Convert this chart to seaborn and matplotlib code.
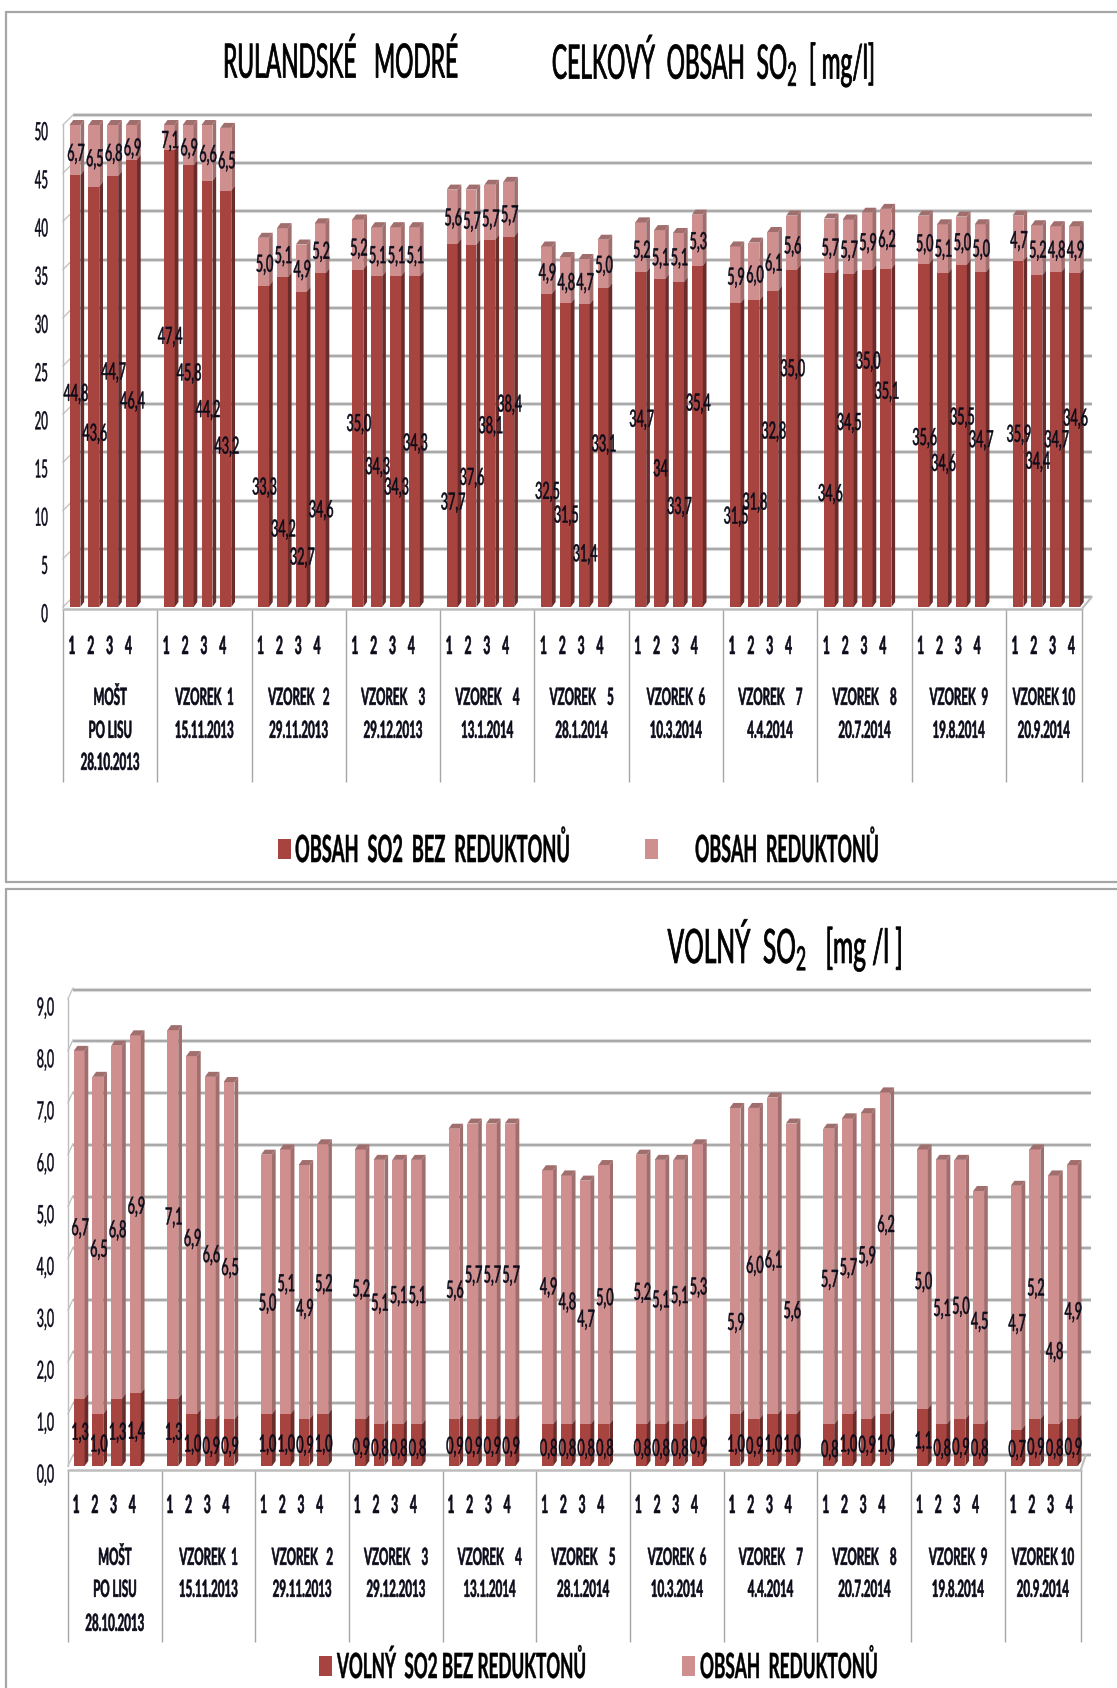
import numpy as np
import pandas as pd
import matplotlib
matplotlib.use("Agg")
import matplotlib.pyplot as plt
import matplotlib.transforms as mtrans
import matplotlib.patheffects as pe
from matplotlib.font_manager import FontProperties
from matplotlib.lines import Line2D
from matplotlib.patches import Patch, Polygon
from matplotlib.textpath import TextPath
import seaborn as sns

sns.set_theme(style="white")
FONT = ["Lato", "DejaVu Sans"]
plt.rcParams["font.family"] = FONT
plt.rcParams["mathtext.fontset"] = "custom"
plt.rcParams["mathtext.rm"] = "Lato"
plt.rcParams["mathtext.default"] = "regular"

# ---- data -----------------------------------------------------------------
GROUP_LINES = [
    ["MOŠT", "PO LISU", "28.10.2013"],
    ["VZOREK  1", "15.11.2013"],
    ["VZOREK   2", "29.11.2013"],
    ["VZOREK    3", "29.12.2013"],
    ["VZOREK    4", "13.1.2014"],
    ["VZOREK    5", "28.1.2014"],
    ["VZOREK  6", "10.3.2014"],
    ["VZOREK    7", "4.4.2014"],
    ["VZOREK    8", "20.7.2014"],
    ["VZOREK  9", "19.8.2014"],
    ["VZOREK 10", "20.9.2014"],
]
SAMPLES = ["1", "2", "3", "4"]

total_base = [44.8, 43.6, 44.7, 46.4, 47.4, 45.8, 44.2, 43.2, 33.3, 34.2, 32.7, 34.6,
              35.0, 34.3, 34.3, 34.3, 37.7, 37.6, 38.1, 38.4, 32.5, 31.5, 31.4, 33.1,
              34.7, 34.0, 33.7, 35.4, 31.5, 31.8, 32.8, 35.0, 34.6, 34.5, 35.0, 35.1,
              35.6, 34.6, 35.5, 34.7, 35.9, 34.4, 34.7, 34.6]
total_red = [6.7, 6.5, 6.8, 6.9, 7.1, 6.9, 6.6, 6.5, 5.0, 5.1, 4.9, 5.2,
             5.2, 5.1, 5.1, 5.1, 5.6, 5.7, 5.7, 5.7, 4.9, 4.8, 4.7, 5.0,
             5.2, 5.1, 5.1, 5.3, 5.9, 6.0, 6.1, 5.6, 5.7, 5.7, 5.9, 6.2,
             5.0, 5.1, 5.0, 5.0, 4.7, 5.2, 4.8, 4.9]
free_base = [1.3, 1.0, 1.3, 1.4, 1.3, 1.0, 0.9, 0.9, 1.0, 1.0, 0.9, 1.0,
             0.9, 0.8, 0.8, 0.8, 0.9, 0.9, 0.9, 0.9, 0.8, 0.8, 0.8, 0.8,
             0.8, 0.8, 0.8, 0.9, 1.0, 0.9, 1.0, 1.0, 0.8, 1.0, 0.9, 1.0,
             1.1, 0.8, 0.9, 0.8, 0.7, 0.9, 0.8, 0.9]
free_red = [6.7, 6.5, 6.8, 6.9, 7.1, 6.9, 6.6, 6.5, 5.0, 5.1, 4.9, 5.2,
            5.2, 5.1, 5.1, 5.1, 5.6, 5.7, 5.7, 5.7, 4.9, 4.8, 4.7, 5.0,
            5.2, 5.1, 5.1, 5.3, 5.9, 6.0, 6.1, 5.6, 5.7, 5.7, 5.9, 6.2,
            5.0, 5.1, 5.0, 4.5, 4.7, 5.2, 4.8, 4.9]

# Hand-dragged label heights, as they sit in the picture (px of a 1568 px tall view)
total_base_label_y = [365, 402, 345, 372, 312, 346, 380, 414, 452, 491, 517, 473,
                      393, 433, 452, 411, 466, 443, 395, 375, 456, 478, 514, 412,
                      389, 435, 470, 374, 479, 466, 400, 342, 458, 392, 335, 363,
                      406, 430, 387, 408, 403, 428, 408, 388]
total_red_label_y = [142, 147, 142, 137, 130, 137, 143, 149, 245, 237, 250, 233,
                     230, 237, 237, 237, 202, 205, 203, 199, 253, 262, 262, 246,
                     232, 239, 239, 224, 257, 255, 244, 228, 230, 232, 225, 222,
                     226, 231, 225, 231, 223, 232, 232, 232]
free_base_label_y = [1330, 1341, 1330, 1329, 1330, 1341, 1343, 1343, 1341, 1341, 1342, 1341,
                     1344, 1345, 1345, 1345, 1343, 1343, 1343, 1343, 1345, 1345, 1345, 1345,
                     1345, 1345, 1345, 1343, 1341, 1343, 1341, 1341, 1346, 1341, 1342, 1341,
                     1338, 1345, 1344, 1345, 1346, 1344, 1345, 1344]
free_red_label_y = [1140, 1160, 1142, 1120, 1130, 1150, 1165, 1177, 1210, 1192, 1215, 1192,
                    1197, 1210, 1203, 1203, 1198, 1184, 1184, 1184, 1195, 1209, 1225, 1205,
                    1200, 1207, 1203, 1195, 1228, 1175, 1170, 1217, 1188, 1177, 1166, 1137,
                    1190, 1215, 1213, 1227, 1229, 1196, 1255, 1218]

Y_TICKS_TOTAL = [0, 5, 10, 15, 20, 25, 30, 35, 40, 45, 50]
Y_TICKS_FREE = [0, 1, 2, 3, 4, 5, 6, 7, 8, 9]
LEGEND_TOTAL = ["OBSAH  SO2  BEZ  REDUKTONŮ", "OBSAH  REDUKTONŮ"]
LEGEND_FREE = ["VOLNÝ  SO2 BEZ REDUKTONŮ", "OBSAH  REDUKTONŮ"]

# ---- style ----------------------------------------------------------------
W, H = 1117, 1688
DPI = 100
DARK, LIGHT = "#A8443F", "#CE8F8E"
DARK_SIDE, LIGHT_SIDE = "#6A2C2A", "#A06E6D"
GRID, GRID_SHADE, SEP = "#A9A9A9", "#DEDEDE", "#A6A6A6"
INK = "#0B0B1A"
CAP = 0.72  # cap height of the font, in em

fig = plt.figure(figsize=(W / DPI, H / DPI), dpi=DPI, facecolor="white")


class Stretch(pe.AbstractPathEffect):
    """Tall, narrow look of the pasted screenshot: stretch glyphs about mid cap height."""

    def __init__(self, sy, bold=0.0):
        super().__init__()
        self.sy = sy
        self.bold = bold

    def draw_path(self, renderer, gc, tpath, affine, rgbFace=None):
        mid = 100 * CAP / 2  # glyph paths use 100 units per em
        aff = mtrans.Affine2D().translate(0, -mid).scale(1, self.sy).translate(0, mid) + affine
        gc0 = renderer.new_gc()
        gc0.copy_properties(gc)
        if self.bold and rgbFace is not None:
            gc0.set_linewidth(self.bold)
            gc0.set_foreground(rgbFace)
        renderer.draw_path(gc0, tpath, aff, rgbFace)
        gc0.restore()


def tall(size_pt, cap_px, bold=0.0):
    return [Stretch(cap_px / (size_pt / 72 * DPI * CAP), bold)]


def size_for(text, width_px, weight="normal"):
    """Font size (pt) at which the text is width_px wide."""
    fp = FontProperties(family="Lato", weight=weight, size=10)
    w = TextPath((0, 0), text, size=10, prop=fp).get_extents().width
    return 10 * (width_px / (DPI / 72)) / w


def px_axes(left, right, y0, y1):
    return fig.add_axes([left / W, 1 - y0 / H, (right - left) / W, (y0 - y1) / H])


def fy(px):
    return 1 - px / H


def comma(v, nd=1):
    return f"{v:.{nd}f}".replace(".", ",")


def legend_entry(color, label, g, square_x, text_w, cap_px, pad_px, square_h=24, square_w=13):
    fs = size_for(label, text_w, "bold")
    em = fs / 72 * DPI
    leg = fig.legend([Patch(fc=color, ec="none")], [label], frameon=False,
                     loc="center left", bbox_to_anchor=(square_x / W, fy(g["leg_y"])),
                     fontsize=fs, handlelength=square_w / em, handleheight=square_h / em,
                     handletextpad=pad_px / em, borderaxespad=0, borderpad=0,
                     labelcolor="black")
    for t in leg.get_texts():
        t.set_fontweight("bold")
        t.set_path_effects(tall(fs, cap_px, 0.3))


def panel(base, red, base_y, red_y, yticks, ymax, g, legend_labels, exceptions):
    n_groups = len(GROUP_LINES)
    slot = g["slot"]
    offs = g["offset"]
    # back wall with its gridlines
    back = px_axes(g["back_l"], g["back_r"], g["back_y0"], g["back_y1"])
    back.set_ylim(0, ymax)
    back.set_xlim(0, 1)
    back.set_yticks([])
    back.set_xticks([])
    back.set_facecolor("none")
    for s in back.spines.values():
        s.set_visible(False)
    back.hlines(yticks, 0, 1, color=GRID_SHADE, lw=3.0, clip_on=False, zorder=1)
    back.hlines(yticks, 0, 1, color=GRID, lw=1.5, clip_on=False, zorder=2)

    # front plane with the bars
    ax = px_axes(g["left"], g["right"], g["y0"], g["y1"])
    ax.set_facecolor("none")
    df = pd.DataFrame({
        "pos": [5 * i + j for i in range(n_groups) for j in range(len(SAMPLES))],
        "base": base,
        "red": red,
    })
    df["total"] = df["base"] + df["red"]
    xmin, xmax = -offs, (g["right"] - g["left"]) / slot - offs
    sns.barplot(data=df, x="pos", y="total", native_scale=True, color=LIGHT, saturation=1,
                width=0.58, ax=ax, zorder=3, linewidth=0)
    n_light = len(ax.patches)
    sns.barplot(data=df, x="pos", y="base", native_scale=True, color=DARK, saturation=1,
                width=0.58, ax=ax, zorder=4, linewidth=0)
    ax.set_xlim(xmin, xmax)
    ax.set_ylim(0, ymax)
    ax.set_xlabel("")
    ax.set_ylabel("")

    # 3-D depth of every bar, derived from the bars themselves
    ppu = (g["y0"] - g["y1"]) / ymax
    dx, dy = 3.7 / slot, 5.0 / ppu
    for k, p in enumerate(list(ax.patches)):
        is_light = k < n_light
        x0 = p.get_x()
        x1 = x0 + p.get_width()
        top = min(p.get_height(), ymax)
        lo = df["base"].iloc[k % len(df)] if is_light else 0
        side = LIGHT_SIDE if is_light else DARK_SIDE
        ax.add_patch(Polygon([(x1, lo), (x1 + dx, lo + dy), (x1 + dx, top + dy), (x1, top)],
                             closed=True, fc=side, ec="none", zorder=3.5 if is_light else 4.5,
                             clip_on=False))
        if is_light:
            ax.add_patch(Polygon([(x0, top), (x0 + dx, top + dy), (x1 + dx, top + dy), (x1, top)],
                                 closed=True, fc=LIGHT_SIDE, ec="none", zorder=3.5, clip_on=False))

    # axes furniture
    for name, s in ax.spines.items():
        s.set_visible(name == "left")
    ax.spines["left"].set_color("#BDBDBD")
    ax.spines["left"].set_linewidth(1.0)
    ax.set_yticks(yticks)
    ax.set_yticklabels([comma(t, g["y_nd"]) for t in yticks], fontsize=g["y_fs"], color=INK)
    ax.tick_params(axis="y", length=0, pad=g["y_pad"], left=False)
    shift = mtrans.ScaledTranslation(0, -g["y_label_drop"] / DPI, fig.dpi_scale_trans)
    for t in ax.get_yticklabels():
        t.set_transform(t.get_transform() + shift)
        t.set_path_effects(tall(g["y_fs"], 18, 0.3))

    pos = df["pos"].to_numpy()
    ax.set_xticks(pos - 0.16)
    ax.set_xticklabels(SAMPLES * n_groups, fontsize=8.7, fontweight="bold", color=INK)
    ax.tick_params(axis="x", length=0, pad=g["x_pad"], bottom=False)
    for t in ax.get_xticklabels():
        t.set_path_effects(tall(8.7, 18, 0.4))

    # walls and floor
    bdx = (g["back_l"] - g["left"]) / slot
    bdy = (g["y0"] - g["back_y0"]) / ppu
    floor = -g["floor_drop"] / ppu
    for t in yticks:
        ax.plot([xmin, xmin + bdx], [t, t + bdy], color="#C4C4C4", lw=1, clip_on=False, zorder=2)
    ax.plot([xmin, xmax], [floor, floor], color="#BDBDBD", lw=1.8, clip_on=False, zorder=2.5)
    ax.plot([xmax, xmax + bdx], [floor, bdy], color="#BDBDBD", lw=1.5, clip_on=False, zorder=2)
    seps = [5 * i - offs for i in range(n_groups)] + [xmax]
    ax.vlines(seps, -(g["sep_end"] - g["y0"]) / ppu, floor, color=SEP, lw=1.0, clip_on=False)

    # group captions
    blend = mtrans.blended_transform_factory(ax.transData, fig.transFigure)
    for i, lines in enumerate(GROUP_LINES):
        cx = (seps[i] + seps[i + 1]) / 2
        for ln, txt in enumerate(lines):
            ax.text(cx, fy(g["cap_y"][ln]), txt, transform=blend, ha="center", va="center",
                    fontsize=8.3, fontweight="bold", color=INK, clip_on=False, zorder=6,
                    path_effects=tall(8.3, 17, 0.4))

    # value labels
    scale = H / 1568
    for k in range(len(df)):
        bl = exceptions.get(k, comma(df["base"].iloc[k]))
        for txt, y in ((bl, base_y[k]), (comma(df["red"].iloc[k]), red_y[k])):
            ax.text(pos[k] + 0.05, fy(y * scale), txt, transform=blend, ha="center", va="center",
                    fontsize=9.1, color=INK, clip_on=False, zorder=7,
                    path_effects=tall(9.1, 17, 0.35))

    # legend
    legend_entry(DARK, legend_labels[0], g, g["leg_x"][0], g["leg_w"][0], g["leg_cap"], g["leg_pad"][0])
    legend_entry(LIGHT, legend_labels[1], g, g["leg_x"][1], g["leg_w"][1], g["leg_cap"], g["leg_pad"][1])
    return ax


panel(total_base, total_red, total_base_label_y, total_red_label_y, Y_TICKS_TOTAL, 50,
      dict(slot=18.86, offset=0.64, left=62.9, right=1081.7, y0=607.0, y1=125.0,
           back_l=73.0, back_r=1092.0, back_y0=597.0, back_y1=115.0,
           floor_drop=2.0, sep_end=782.0, x_pad=24, y_pad=10.8, y_nd=0, y_fs=8.2, y_label_drop=5.7,
           cap_y=[697, 730, 762], leg_x=(278, 645), leg_y=849, leg_w=(273, 182), leg_cap=27,
           leg_pad=(4, 37)),
      LEGEND_TOTAL, {25: "34"})

panel(free_base, free_red, free_base_label_y, free_red_label_y, Y_TICKS_FREE, 9,
      dict(slot=18.74, offset=0.6, left=67.9, right=1080.7, y0=1466.0, y1=999.0,
           back_l=73.0, back_r=1090.5, back_y0=1455.0, back_y1=989.7,
           floor_drop=4.0, sep_end=1642.0, x_pad=24, y_pad=10, y_nd=1, y_fs=9, y_label_drop=7,
           cap_y=[1557, 1589, 1623], leg_x=(319, 682), leg_y=1666, leg_w=(248, 176), leg_cap=25,
           leg_pad=(5, 5)),
      LEGEND_FREE, {})

# titles
for s, cx, cy, w in [("RULANDSKÉ   MODRÉ", 341, 62, 232),
                     ("CELKOVÝ  OBSAH  SO$_{2}$  [ mg/l]", 713, 61, 320),
                     ("VOLNÝ  SO$_{2}$   [mg /l ]", 785, 945, 233)]:
    fs = size_for(s, w)
    fig.text(cx / W, fy(cy), s, ha="center", va="center", fontsize=fs, color="black",
             path_effects=tall(fs, 34, 0.55))

# chart frames of the two pasted panels, running off the right edge
frame = dict(color="#A6A6A6", lw=1.6, transform=fig.transFigure)
for xs, ys in [((6.4, 6.4), (12, 882)), ((6.4, W), (12, 12)), ((6.4, W), (882, 882)),
               ((6.4, W), (889, 889)), ((6.4, 6.4), (889, H))]:
    fig.add_artist(Line2D([x / W for x in xs], [fy(y) for y in ys], **frame))

fig.savefig("out.png", dpi=DPI, facecolor="white")
